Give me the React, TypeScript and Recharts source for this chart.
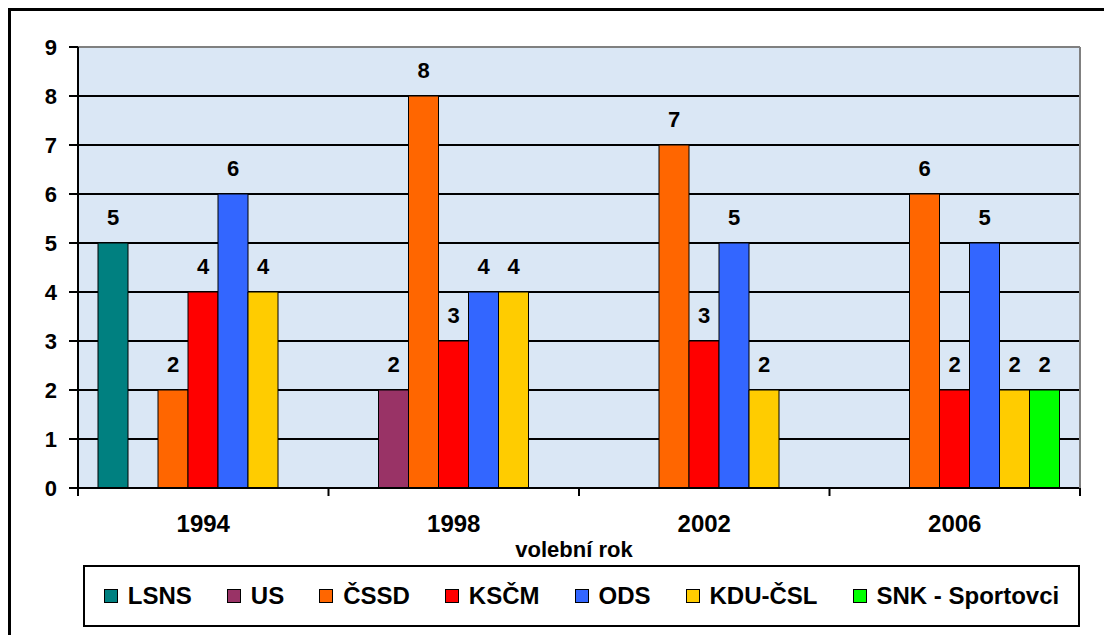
import React from 'react'
import { BarChart, Bar, XAxis, YAxis, CartesianGrid, LabelList, Label } from 'recharts'

const years = ['1994', '1998', '2002', '2006']
const lsns = [5, null, null, null]
const us = [null, 2, null, null]
const cssd = [2, 8, 7, 6]
const kscm = [4, 3, 3, 2]
const ods = [6, 4, 5, 5]
const kdu = [4, 4, 2, 2]
const snk = [null, null, null, 2]
const yTicks = [0, 1, 2, 3, 4, 5, 6, 7, 8, 9]

const series = [
  { key: 'lsns', name: 'LSNS', color: '#008080', values: lsns },
  { key: 'us', name: 'US', color: '#993366', values: us },
  { key: 'cssd', name: 'ČSSD', color: '#FF6600', values: cssd },
  { key: 'kscm', name: 'KSČM', color: '#FF0000', values: kscm },
  { key: 'ods', name: 'ODS', color: '#3366FF', values: ods },
  { key: 'kdu', name: 'KDU-ČSL', color: '#FFCC00', values: kdu },
  { key: 'snk', name: 'SNK - Sportovci', color: '#00FF00', values: snk },
]

const data = years.map((year, i) => {
  const row: Record<string, string | number | null> = { year }
  series.forEach(s => {
    row[s.key] = s.values[i]
  })
  return row
})

const FONT = '"Liberation Sans", Arial, sans-serif'

const W = 1104
const H = 635
const MARGIN = { top: 46, right: 23, left: 18, bottom: 77 }
const Y_W = 60
const YR_W = 1
const PLOT_W = W - MARGIN.left - MARGIN.right - Y_W - YR_W
const TICK_SIZE = 8
const TICK_MARGIN = 19

// year label in the middle of the band, tick marks on the band edges
const YearTick = (props: any) => {
  const { x, y, payload, index, visibleTicksCount } = props
  const count = visibleTicksCount || years.length
  const half = PLOT_W / count / 2
  const y0 = y - TICK_SIZE - TICK_MARGIN
  return (
    <g>
      <line x1={x - half} x2={x - half} y1={y0} y2={y0 + TICK_SIZE} stroke="#000" strokeWidth={2} />
      {index === count - 1 && (
        <line x1={x + half} x2={x + half} y1={y0} y2={y0 + TICK_SIZE} stroke="#000" strokeWidth={2} />
      )}
      <text x={x} y={y} dy="0.71em" textAnchor="middle" fill="#000" fontSize={24} fontWeight={700} fontFamily={FONT}>
        {payload.value}
      </text>
    </g>
  )
}

export default function App() {
  return (
    <div style={{ position: 'absolute', left: 0, top: 0, width: W, height: H, background: '#fff', overflow: 'hidden', fontFamily: FONT }}>
      {/* outer frame */}
      <div style={{ position: 'absolute', left: 8, top: 8, width: 1120, height: 660, border: '3px solid #000' }} />
      <BarChart
        width={W}
        height={H}
        data={data}
        margin={MARGIN}
        barCategoryGap={20}
        barGap={0}
        style={{ position: 'absolute', left: 0, top: 0 }}
      >
        <CartesianGrid vertical={false} stroke="#000" strokeWidth={2} fill="#dae7f5" />
        <XAxis
          dataKey="year"
          height={70}
          axisLine={{ stroke: '#000', strokeWidth: 2 }}
          tickLine={false}
          tickSize={TICK_SIZE}
          tickMargin={TICK_MARGIN}
          tick={YearTick}
        >
          <Label
            value="volební rok"
            position="insideBottom"
            offset={1}
            dx={-5}
            style={{ fill: '#000', fontSize: 22, fontWeight: 700, fontFamily: FONT }}
          />
        </XAxis>
        <XAxis
          xAxisId="top"
          orientation="top"
          dataKey="year"
          height={1}
          tick={false}
          tickLine={false}
          axisLine={{ stroke: '#808080', strokeWidth: 2 }}
        />
        <YAxis
          domain={[0, 9]}
          ticks={yTicks}
          interval={0}
          width={Y_W}
          tickSize={9}
          tickMargin={12}
          axisLine={{ stroke: '#000', strokeWidth: 2 }}
          tickLine={{ stroke: '#000', strokeWidth: 2 }}
          tick={{ fill: '#000', fontSize: 22, fontWeight: 700, fontFamily: FONT }}
        />
        <YAxis
          yAxisId="right"
          orientation="right"
          width={YR_W}
          tick={false}
          tickLine={false}
          axisLine={{ stroke: '#808080', strokeWidth: 2 }}
        />
        {series.map(s => (
          <Bar key={s.key} dataKey={s.key} name={s.name} fill={s.color} stroke="#000" strokeWidth={1} isAnimationActive={false}>
            <LabelList
              dataKey={s.key}
              position="top"
              offset={18}
              style={{ fill: '#000', fontSize: 22, fontWeight: 700, fontFamily: FONT }}
            />
          </Bar>
        ))}
      </BarChart>
      {/* legend */}
      <div
        style={{
          position: 'absolute',
          left: 83,
          top: 565,
          width: 993,
          height: 58,
          border: '2px solid #000',
          background: '#fff',
          display: 'flex',
          alignItems: 'center',
          justifyContent: 'center',
          gap: 35,
        }}
      >
        {series.map(s => (
          <div key={s.key} style={{ display: 'flex', alignItems: 'center', gap: 10 }}>
            <span style={{ width: 12, height: 12, background: s.color, border: '1.5px solid #000', display: 'inline-block' }} />
            <span style={{ fontSize: 24, fontWeight: 700, color: '#000', lineHeight: 1 }}>{s.name}</span>
          </div>
        ))}
      </div>
    </div>
  )
}
